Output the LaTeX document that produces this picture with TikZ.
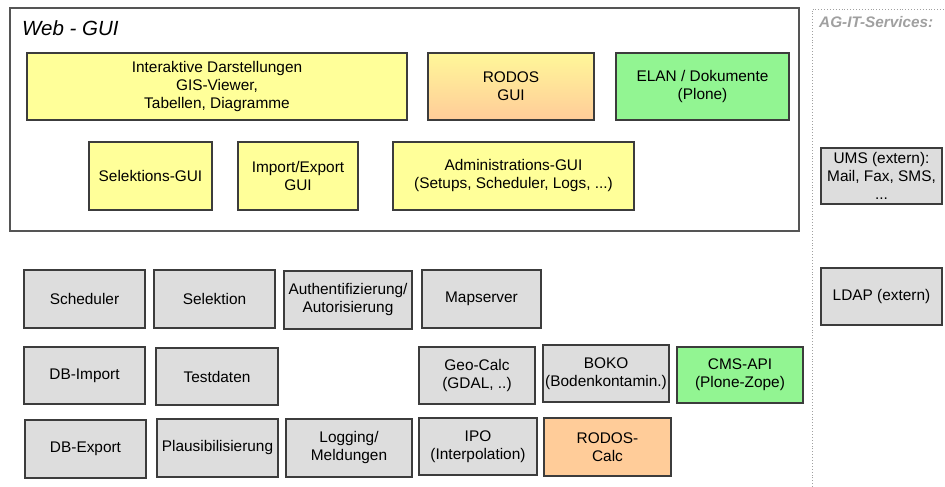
\documentclass[tikz,border=0pt]{standalone}
\usepackage{fontspec}
\setmainfont{Liberation Sans}
\definecolor{boxline}{HTML}{3C3C3C}
\definecolor{guiyellow}{HTML}{FFFF99}
\definecolor{calcorange}{HTML}{FFCC99}
\definecolor{plonegreen}{HTML}{92F592}
\definecolor{servgray}{HTML}{DDDDDD}
\definecolor{framegray}{HTML}{555555}
\definecolor{extgray}{HTML}{A0A0A0}

% place a box node from its top-left and bottom-right corners (in px)
\newcommand\placebox[7]{%
  \node[#6, minimum width={(#4-#2)*1pt}, minimum height={(#5-#3)*1pt}]
    (#1) at ({(#2+#4)/2},{(#3+#5)/2}) {#7};}

\tikzset{
  basebox/.style={draw=boxline, line width=1.2pt, inner sep=0pt, align=center,
    font=\fontsize{15.4}{18}\selectfont},
  yellowbox/.style={basebox, fill=guiyellow},
  graybox/.style={basebox, fill=servgray},
  greenbox/.style={basebox, fill=plonegreen},
  orangebox/.style={basebox, fill=calcorange},
  gradbox/.style={basebox, top color=guiyellow!85!calcorange, bottom color=calcorange},
}

\begin{document}
\begin{tikzpicture}[x=1pt, y=-1pt]
\useasboundingbox (0,0) rectangle (945,487);

% Web-GUI frame
\node[draw=framegray, line width=1.2pt, minimum width=789pt, minimum height=223pt, inner sep=0pt]
  (webframe) at (404.5,119.5) {};
\node[anchor=base west, inner sep=0pt, font=\fontsize{20.5}{24}\selectfont\itshape]
  (webtitle) at (22,36) {Web - GUI};

% external services area (dotted)
\coordinate (extbottom) at (812,487);
\coordinate (extcorner) at (812,9);
\coordinate (extright) at (945,9);
\draw[extgray, dotted, line width=0.9pt] (extbottom) -- (extcorner) -- (extright);
\node[anchor=base west, inner sep=0pt, text=extgray,
  font=\fontsize{15.3}{18}\selectfont\bfseries\itshape] (exttitle) at (819,28) {AG-IT-Services:};

% GUI components
\placebox{interaktiv}{27}{53}{407}{120}{yellowbox}{Interaktive Darstellungen\\GIS-Viewer,\\Tabellen, Diagramme}
\placebox{rodosgui}{428}{53}{594}{120}{gradbox}{RODOS\\GUI}
\placebox{elan}{616}{53}{789}{120}{greenbox}{ELAN / Dokumente\\(Plone)}
\placebox{selgui}{89}{142}{212}{210}{yellowbox}{Selektions-GUI}
\placebox{iogui}{238}{142}{358}{210}{yellowbox}{Import/Export\\GUI}
\placebox{admingui}{393}{142}{634}{210}{yellowbox}{Administrations-GUI\\(Setups, Scheduler, Logs, ...)}

% external services
\placebox{ums}{821}{148}{942}{204}{graybox}{UMS (extern):\\Mail, Fax, SMS,\\...}
\placebox{ldap}{821}{268}{942}{325}{graybox}{LDAP (extern)}

% backend services, row 1
\placebox{scheduler}{24}{270}{145}{328}{graybox}{Scheduler}
\placebox{selektion}{154}{270}{275}{328}{graybox}{Selektion}
\placebox{auth}{284}{271}{412}{329}{graybox}{Authentifizierung/\\Autorisierung}
\placebox{mapserver}{422}{270}{541}{328}{graybox}{Mapserver}

% row 2
\placebox{dbimport}{24}{347}{145}{404}{graybox}{DB-Import}
\placebox{testdaten}{156}{348}{278}{405}{graybox}{Testdaten}
\placebox{geocalc}{419}{347}{535}{404}{graybox}{Geo-Calc\\(GDAL, ..)}
\placebox{boko}{543}{345}{669}{402}{graybox}{BOKO\\(Bodenkontamin.)}
\placebox{cmsapi}{677}{347}{803}{403}{greenbox}{CMS-API\\(Plone-Zope)}

% row 3
\placebox{dbexport}{25}{420}{146}{478}{graybox}{DB-Export}
\placebox{plausi}{157}{419}{278}{477}{graybox}{Plausibilisierung}
\placebox{logging}{286}{419}{412}{477}{graybox}{Logging/\\Meldungen}
\placebox{ipo}{419}{418}{537}{475}{graybox}{IPO\\(Interpolation)}
\placebox{rodoscalc}{544}{418}{671}{476}{orangebox}{RODOS-\\Calc}
\end{tikzpicture}
\end{document}
